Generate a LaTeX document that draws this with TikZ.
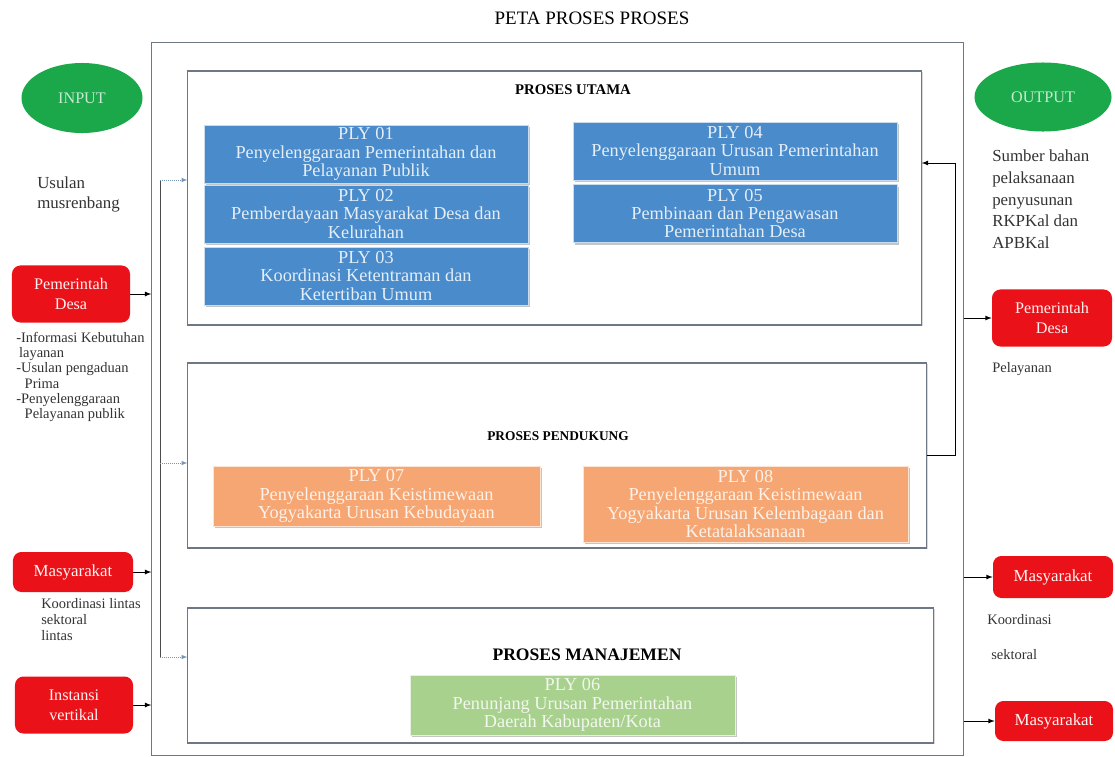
\documentclass[tikz,border=0pt]{standalone}
\usepackage{fontspec}
\setmainfont{Liberation Serif}
\usetikzlibrary{shapes.geometric,shadows}

\definecolor{plyblue}{RGB}{74,139,203}
\definecolor{plyorange}{RGB}{245,166,115}
\definecolor{plygreen}{RGB}{168,209,141}
\definecolor{actorred}{RGB}{234,18,24}
\definecolor{iogreen}{RGB}{27,168,74}
\definecolor{groupline}{RGB}{110,120,132}
\definecolor{busline}{RGB}{120,150,180}

\begin{document}
\begin{tikzpicture}[x=0.025cm, y=-0.025cm,
        group/.style={draw=groupline, thick, inner sep=0pt, fill=white,
            drop shadow={shadow xshift=1pt, shadow yshift=-1pt, opacity=0.3}},
        grouptitle/.style={font=\bfseries\fontsize{9.5}{10}\selectfont},
        plybox/.style={draw=white!70!#1, fill=#1, text=white!85!#1, align=center, inner sep=0pt,
            minimum width=8.1cm, minimum height=1.45cm, font=\fontsize{13}{13}\selectfont,
            drop shadow={shadow xshift=1.5pt, shadow yshift=-1.5pt, opacity=0.45}},
        actor/.style={fill=actorred, text=white!80!pink, rounded corners=6pt, align=center, inner sep=0pt,
            minimum width=2.95cm, minimum height=1.425cm, font=\fontsize{11.5}{14.5}\selectfont},
        io/.style={ellipse, fill=iogreen, text=white!75!iogreen, inner sep=0pt,
            font=\fontsize{11.5}{12}\selectfont},
        note/.style={align=left, inner sep=0pt, text=black!80},
        flow/.style={-latex, semithick},
        busflow/.style={-latex, densely dotted, busline}
    ]
        \useasboundingbox (0,0) rectangle (1115,756);

        % title
        \node (title) at (592,18) {\fontsize{13.5}{14}\selectfont PETA PROSES PROSES};

        % outer frame
        \node[draw=groupline, thick, inner sep=0pt, minimum width=20.275cm, minimum height=17.8cm] (frame) at (557.5,399) {};

        % groups
        \node[group, minimum width=18.325cm, minimum height=6.35cm] (utama) at (554.5,198) {};
        \node[group, minimum width=18.45cm, minimum height=4.625cm] (pendukung) at (557,455.5) {};
        \node[group, minimum width=18.625cm, minimum height=3.375cm] (manajemen) at (560.5,675.5) {};

        \node[grouptitle, font=\bfseries\fontsize{10.5}{11}\selectfont] (utamatitle) at (573,90) {PROSES UTAMA};
        \node[grouptitle] (pendukungtitle) at (558,436) {PROSES PENDUKUNG};
        \node[grouptitle, font=\bfseries\fontsize{12.5}{13}\selectfont] (manajementitle) at (587,655) {PROSES MANAJEMEN};

        % proses utama
        \node[plybox=plyblue] (ply01) at (366,154) {PLY 01\\Penyelenggaraan Pemerintahan dan\\Pelayanan Publik};
        \node[plybox=plyblue] (ply02) at (366,214) {PLY 02\\Pemberdayaan Masyarakat Desa dan\\Kelurahan};
        \node[plybox=plyblue] (ply03) at (366,276) {PLY 03\\Koordinasi Ketentraman dan\\Ketertiban Umum};
        \node[plybox=plyblue] (ply04) at (735,151) {PLY 04\\Penyelenggaraan Urusan Pemerintahan\\Umum};
        \node[plybox=plyblue] (ply05) at (735,213.5) {PLY 05\\Pembinaan dan Pengawasan\\Pemerintahan Desa};

        % proses pendukung
        \node[plybox=plyorange, minimum width=8.175cm, minimum height=1.5cm] (ply07) at (376.5,496) {PLY 07\\Penyelenggaraan Keistimewaan\\Yogyakarta Urusan Kebudayaan};
        \node[plybox=plyorange, minimum width=8.125cm, minimum height=1.9cm] (ply08) at (745.5,504) {PLY 08\\Penyelenggaraan Keistimewaan\\Yogyakarta Urusan Kelembagaan dan\\Ketatalaksanaan};

        % proses manajemen
        \node[plybox=plygreen, minimum width=8.125cm, minimum height=1.5cm] (ply06) at (572.5,705) {PLY 06\\Penunjang Urusan Pemerintahan\\Daerah Kabupaten/Kota};

        % input side
        \node[io, minimum width=3.025cm, minimum height=1.75cm] (input) at (82,98) {INPUT};
        \node[note, anchor=north west, font=\fontsize{12}{14}\selectfont] (usulan) at (37,177) {Usulan\\musrenbang};
        \node[actor] (pemdesL) at (71,294) {Pemerintah\\Desa};
        \node[note, anchor=north west, font=\fontsize{10.3}{10.8}\selectfont] (pemdesLnote) at (16,332) {-Informasi Kebutuhan\\\hspace{2pt}layanan\\-Usulan pengaduan\\\hspace{6pt}Prima\\-Penyelenggaraan\\\hspace{6pt}Pelayanan publik};
        \node[actor, minimum width=3cm, minimum height=1cm, font=\fontsize{12}{14}\selectfont] (masyL) at (73,572) {Masyarakat};
        \node[note, anchor=north west, font=\fontsize{10.3}{11.5}\selectfont] (masyLnote) at (41,598) {Koordinasi lintas\\sektoral\\lintas};
        \node[actor] (instansi) at (74,705) {Instansi\\vertikal};

        % output side
        \node[io, minimum width=3.425cm, minimum height=1.725cm] (output) at (1043,97) {OUTPUT};
        \node[note, anchor=north west, font=\fontsize{12}{15.4}\selectfont] (sumber) at (992,150) {Sumber bahan\\pelaksanaan\\penyusunan\\RKPKal dan\\APBKal};
        \node[actor, minimum width=3cm] (pemdesR) at (1052,318) {Pemerintah\\Desa};
        \node[note, anchor=west, font=\fontsize{10.3}{11}\selectfont] (pelayanan) at (992,369) {Pelayanan};
        \node[actor, minimum width=3cm, minimum height=1.05cm, font=\fontsize{12}{14}\selectfont] (masyR) at (1053,577) {Masyarakat};
        \node[note, anchor=west, font=\fontsize{10.3}{11}\selectfont] (koordinasi) at (987,620) {Koordinasi};
        \node[note, anchor=west, font=\fontsize{10.3}{11}\selectfont] (sektoral) at (991,655) {sektoral};
        \node[actor, minimum height=1cm, font=\fontsize{12}{14}\selectfont] (masyRR) at (1054,721) {Masyarakat};

        % bus into the groups
        \coordinate (bustop) at (160,180);
        \coordinate (busmid) at (160,463);
        \coordinate (busbot) at (160,657);
        \draw[black!70, semithick] (bustop) -- (busbot);
        \draw[busflow] (bustop) -- (bustop -| utama.west);
        \draw[busflow] (busmid) -- (busmid -| pendukung.west);
        \draw[busflow] (busbot) -- (busbot -| manajemen.west);

        % inputs
        \draw[flow] (pemdesL.east) -- (pemdesL.east -| frame.west);
        \draw[flow] (masyL.east) -- (masyL.east -| frame.west);
        \draw[flow] (instansi.east) -- (instansi.east -| frame.west);

        % feedback
        \coordinate (fbturn) at (955,163);
        \draw[flow] (pendukung.east) -| (fbturn) -- (fbturn -| utama.east);

        % outputs
        \draw[flow] (frame.east |- pemdesR.west) -- (pemdesR.west);
        \draw[flow] (frame.east |- masyR.west) -- (masyR.west);
        \draw[flow] (frame.east |- masyRR.west) -- (masyRR.west);
    \end{tikzpicture}
\end{document}
